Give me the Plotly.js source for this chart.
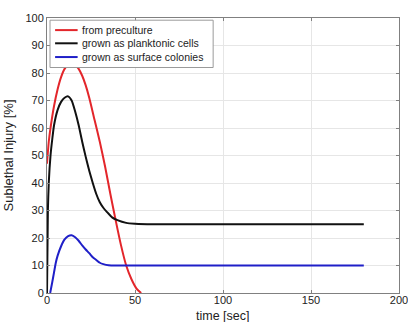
<!DOCTYPE html>
<html><head><meta charset="utf-8">
<script src="https://cdn.plot.ly/plotly-3.0.1.min.js"></script>
<style>body{margin:0;background:#fff}#c{width:408px;height:322px}</style>
</head><body><div id="c"></div>
<script>
const seriesNames = ["from preculture", "grown as planktonic cells", "grown as surface colonies"];
const redT = [0,1,2,4,6,8,10,12,14,16,18,20,22,24,27,30,33,36,39,42,45,48,51,53.5];
const redY = [47,55,60,68,74,78.5,81.5,83,83.5,83,81.5,79,75.5,71,63,55,46,36,26.5,17.5,10,5,1.5,0];
const blackT = [0,0.5,1,2,3,4,6,8,10,12,14,16,18,20,22,24,26,28,30,32,34,37,40,45,50,60,100,180];
const blackY = [0,30,40,50,56,61,66.5,69.5,71,71.5,70,66,61,55,49.5,44.5,40,36,33,31,29.5,27.5,26.5,25.5,25.2,25,25,25];
const blueT = [1.8,3,4,5,6,8,10,12,14,16,18,20,22,24,26,28,30,32,35,40,60,100,180];
const blueY = [0,4,7.5,11,13.5,17,19.5,20.7,21,20.3,19,17.3,15.8,14.5,13,12,11,10.5,10.1,10,10,10,10];
const xTicks = [0,50,100,150,200];
const yTicks = [0,10,20,30,40,50,60,70,80,90,100];
const xTitle = "time [sec]";
const yTitle = "Sublethal Injury [%]";

const colors = ["#e3262b", "#111111", "#1f1fc8"];
const FONT = "Liberation Sans, Arial, sans-serif";
const data = [
  {x: redT, y: redY, name: seriesNames[0]},
  {x: blackT, y: blackY, name: seriesNames[1]},
  {x: blueT, y: blueY, name: seriesNames[2]}
].map((d,i)=>Object.assign(d,{type:"scatter",mode:"lines",showlegend:false,
  line:{color:colors[i],width:2,shape:"spline",smoothing:0.6}}));

const axisCommon = {showline:true, mirror:"ticks", linecolor:"#808080", linewidth:1,
  showgrid:true, gridcolor:"#e6e6e6", gridwidth:1, zeroline:false,
  ticks:"inside", ticklen:3, tickcolor:"#808080", ticklabeloverflow:"allow",
  tickfont:{family:FONT, size:11, color:"#222"}};

// Legend drawn manually (box, line samples, labels) in paper coords
const rowsY = [0.956, 0.908, 0.858];
const shapes = [{type:"rect", xref:"paper", yref:"paper", x0:0.0086, x1:0.472, y0:0.82, y1:0.992,
  fillcolor:"#ffffff", line:{color:"#9a9a9a", width:1}, layer:"above"}];
const annotations = [];
seriesNames.forEach((n,i)=>{
  shapes.push({type:"line", xref:"paper", yref:"paper", x0:0.023, x1:0.087, y0:rowsY[i], y1:rowsY[i],
    line:{color:colors[i], width:2}, layer:"above"});
  annotations.push({xref:"paper", yref:"paper", x:0.095, y:rowsY[i], xanchor:"left", yanchor:"middle",
    text:n, showarrow:false, font:{family:FONT, size:10.5, color:"#222"}});
});
// x-axis title as annotation so it can sit lower, as in the reference
annotations.push({xref:"paper", yref:"paper", x:0.5, y:-0.083, xanchor:"center", yanchor:"middle",
  text:xTitle, showarrow:false, borderpad:0, font:{family:FONT, size:12.5, color:"#222"}});

const layout = {
  width:408, height:322,
  margin:{l:47, r:9, t:18, b:29},
  paper_bgcolor:"#fff", plot_bgcolor:"#fff",
  showlegend:false,
  shapes:shapes, annotations:annotations,
  xaxis:Object.assign({}, axisCommon, {range:[0,200], tickvals:xTicks, ticktext:xTicks.map(String),
    ticklabelstandoff:-3}),
  yaxis:Object.assign({}, axisCommon, {range:[0,100], tickvals:yTicks, ticktext:yTicks.map(String),
    title:{text:yTitle, font:{family:FONT, size:13, color:"#222"}, standoff:8}})
};
Plotly.newPlot("c", data, layout, {displayModeBar:false, staticPlot:true});
</script></body></html>
